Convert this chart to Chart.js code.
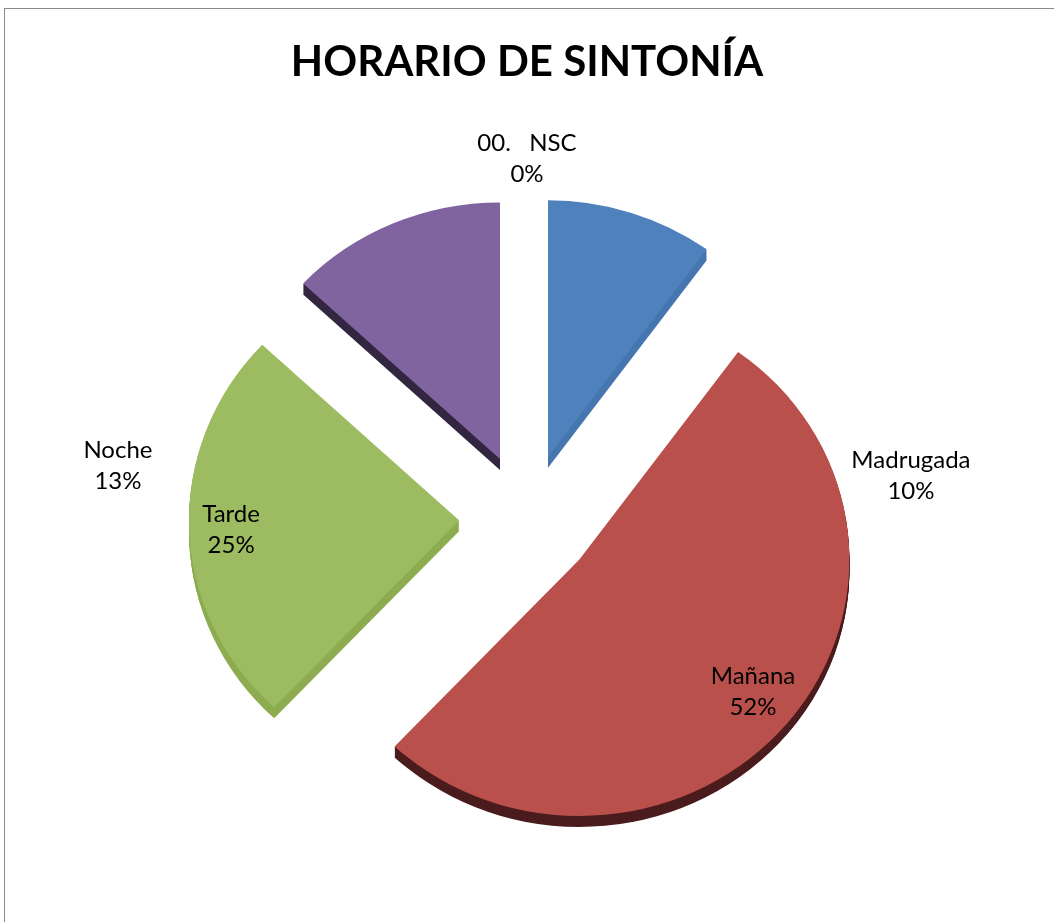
<!DOCTYPE html>
<html>
<head>
<meta charset="utf-8">
<script src="https://cdn.jsdelivr.net/npm/chart.js@4.4.1/dist/chart.umd.min.js"></script>
<style>
  html, body { margin: 0; padding: 0; background: #fff; overflow: hidden; }
  #frame { position: absolute; left: 4px; top: 8px; width: 1100px; height: 1000px;
           border-left: 1px solid #8a8a8a; border-top: 1px solid #8a8a8a; }
  #wrap { position: absolute; left: 0; top: 0; width: 1054px; height: 1000px; }
</style>
</head>
<body>
<div id="frame"></div>
<div id="wrap"><canvas id="pieChart" width="1054" height="1000"></canvas></div>
<script>
const categories = ['Madrugada', 'Mañana', 'Tarde', 'Noche', '00.   NSC'];
const percentages = [10, 52, 25, 13, 0];

const sliceColors = ['#4F81BD', '#B9504C', '#9DBB60', '#8064A0', '#4BACC6'];
const sideColors = ['#4676AF', '#4B1C1E', '#8DAC50', '#322640', '#3A8FA6'];

// label anchor, as multiples of the radius from the pie centre
const labelSpots = [[1.422, -0.156], [0.837, 0.641], [-1.096, 0.041], [-1.515, -0.196], [0, -1.330]];

const EXPLODE = 68;   // px each slice is pulled out
const DEPTH = 11;     // thickness of the 3d rim
const TILT = 0.95;    // vertical squash of the pie

// draws the slices exploded, tilted and with a rim underneath
const explode3d = {
  id: 'explode3d',
  beforeDatasetDraw(chart, args) {
    const ctx = chart.ctx;
    const arcs = args.meta.data;

    const drawArc = (arc, i, shiftY, color) => {
      const mid = (arc.startAngle + arc.endAngle) / 2;
      ctx.save();
      ctx.translate(0, shiftY);
      ctx.translate(arc.x, arc.y);
      ctx.scale(1, TILT);
      ctx.translate(-arc.x, -arc.y);
      ctx.translate(Math.cos(mid) * EXPLODE, Math.sin(mid) * EXPLODE);
      const bg = arc.options.backgroundColor;
      arc.options.backgroundColor = color;
      arc.draw(ctx);
      arc.options.backgroundColor = bg;
      ctx.restore();
    };

    for (let d = DEPTH; d >= 1; d--) {
      arcs.forEach((arc, i) => drawArc(arc, i, d, sideColors[i]));
    }
    arcs.forEach((arc, i) => drawArc(arc, i, 0, sliceColors[i]));
    return false;
  }
};

const sliceLabels = {
  id: 'sliceLabels',
  afterDatasetsDraw(chart) {
    const ctx = chart.ctx;
    const arc0 = chart.getDatasetMeta(0).data[0];
    const cx = arc0.x, cy = arc0.y, r = arc0.outerRadius;
    ctx.save();
    ctx.font = '24px Lato';
    ctx.fillStyle = '#000';
    ctx.textAlign = 'center';
    ctx.textBaseline = 'middle';
    categories.forEach((name, i) => {
      const [fx, fy] = labelSpots[i];
      const x = cx + fx * r;
      const y = cy + fy * r;
      ctx.fillText(name, x, y - 15.5);
      ctx.fillText(percentages[i] + '%', x, y + 15.5);
    });
    ctx.restore();
  }
};

const ctx = document.getElementById('pieChart').getContext('2d');
new Chart(ctx, {
  type: 'pie',
  data: {
    labels: categories,
    datasets: [{
      data: percentages,
      backgroundColor: sliceColors,
      borderWidth: 0,
      radius: 270
    }]
  },
  options: {
    responsive: false,
    animation: false,
    events: [],
    layout: { padding: { top: 0, bottom: 60.8, left: 0, right: 0 } },
    plugins: {
      legend: { display: false },
      tooltip: { enabled: false },
      title: {
        display: true,
        text: 'HORARIO DE SINTONÍA',
        color: '#000',
        font: { family: 'Lato', size: 42, weight: 'bold' },
        padding: { top: 37, bottom: 10 }
      }
    }
  },
  plugins: [explode3d, sliceLabels]
});
</script>
</body>
</html>
